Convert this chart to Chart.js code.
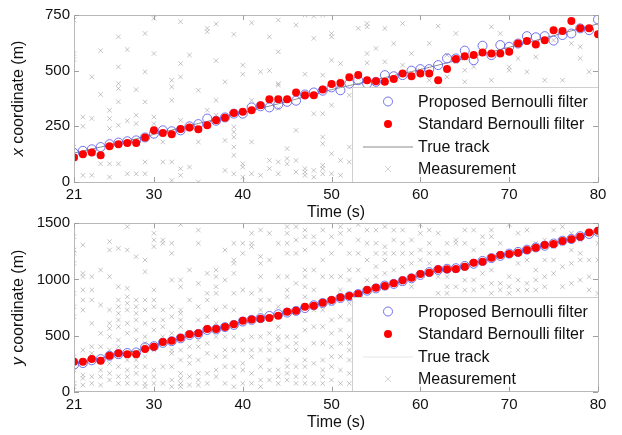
<!DOCTYPE html>
<html><head><meta charset="utf-8">
<script src="https://cdn.jsdelivr.net/npm/chart.js@4"></script>
<style>
html,body{margin:0;padding:0;background:#fff;}
#wrap{position:relative;width:622px;height:435px;overflow:hidden;background:#fff;}
canvas{position:absolute;left:0;}
</style></head><body>
<div id="wrap">
<canvas id="cx" width="622" height="222" style="top:0;width:622px;height:222px"></canvas>
<canvas id="cy" width="622" height="225" style="top:210px;width:622px;height:225px"></canvas>
</div>
<script>
const times = [21,22,23,24,25,26,27,28,29,30,31,32,33,34,35,36,37,38,39,40,41,42,43,44,45,46,47,48,49,50,51,52,53,54,55,56,57,58,59,60,61,62,63,64,65,66,67,68,69,70,71,72,73,74,75,76,77,78,79,80];
const timeTicks = [21,30,40,50,60,70,80];
const xCoordTicks = [0,250,500,750];
const yCoordTicks = [0,500,1000,1500];

// x coordinate (m)
const stdX  = [110,125,132,120,160,170,175,175,200,232, 220,215,238,245,237,255,277,288,310,315, 322,345,372,372,372,402,390,390,415,440, 445,470,480,457,453,450,463,487,475,487, 487,457,508,552,565,570,582,577,577,585, 622,633,618,637,682,678,723,690,690,664];
const propX = [130,140,147,157,170,177,183,187,200,217, 232,228,232,250,260,285,275,290,307,307, 335,340,335,348,360,365,393,402,410,425, 412,442,457,442,450,480,475,480,500,507, 507,525,555,555,590,547,612,570,615,607, 622,655,650,655,635,660,667,690,682,730];
const trueX = [130,139,148,157,166,175,184,194,204,214, 224,233,243,253,263,272,282,292,301,311, 321,331,341,351,361,372,383,394,404,415, 424,433,442,451,460,469,478,487,496,505, 515,525,535,545,555,565,575,585,595,605, 615,625,636,647,657,668,679,689,700,710];
const measX = [
 [728,577,550,157],[292,250,30],[472,285,30],[590,393,82],[322,285,240,82,22],
 [652,517,442,420,360,255,82],[595,275,37],[415,300,262,37],[667,495,360,90,37],[735,577,292,262],
 [180,90],[457,427,367,90,7],[720,532,472,277,60,30],[570,67],[412,180,0],
 [690,675,322],[710,545,367,300],[450,187,52],[663,247,225,202,157,120,37],[525,484,82,67,22],
 [715,367,180,37],[495,30],[652,500,97,60],[727,585,442,435,330,90,37],[150,105,82],
 [705,232,97,45],[750,484,60,45,30],[745,645,307,52,22],[750,480,307,202,172,75,60,37],[667,652,547,345,127,37],
 [532,457,97,30],[390,157,90],[690,465,200],[712,697,577,535],[600,120],
 [690,540],[622,300],[712,525],[577,150],[502,60],
 [622,457],[700,420],[570,472],[667,540],[555,502,450],
 [517],[577],[697,457],[667],[517,502],
 [555],[495],[562],[457],[637],
 [457],[622],[607,555],[495],[240,157,105]
];

// y coordinate (m)
const stdY  = [267,267,291,276,321,342,333,333,380,401, 443,454,481,511,520,558,558,576,600,633, 644,650,656,677,713,722,757,766,793,817, 838,852,870,906,927,941,965,992,1016,1048, 1060,1090,1090,1093,1114,1149,1158,1194,1218,1227, 1238,1262,1283,1307,1316,1342,1357,1381,1417,1434];
const propY = [240,255,280,290,320,335,345,350,395,405, 435,450,475,505,515,550,555,575,595,625, 640,655,675,690,705,720,745,770,790,810, 835,850,870,900,920,945,960,985,1010,1040, 1065,1085,1095,1100,1120,1140,1165,1190,1210,1230, 1245,1265,1285,1300,1320,1345,1360,1385,1405,1425];
const trueY = [250,265,282,298,318,335,350,365,385,405, 432,452,475,500,518,545,560,578,598,622, 640,656,672,690,708,725,748,768,790,810, 835,852,870,898,920,943,962,988,1012,1040, 1060,1082,1094,1102,1120,1145,1165,1190,1212,1228, 1244,1264,1285,1303,1320,1344,1360,1384,1408,1428];
const measY = [
 [1381,1262,1232,1143,876,757,668,312,193,74,45],
 [1307,1054,1025,906,817,728,371,252,148,119,59],
 [1025,906,817,609,401,342,134,74],
 [1084,772,520,401,193,134,59],
 [1337,1262,1025,728,609,564,490,371,252,163,104],
 [1277,935,817,757,698,639,579,460,401,312,223,134,74],
 [1470,1262,921,846,787,728,609,520,282,193,134,74],
 [1203,817,757,698,639,549,460,282,223,163,74],
 [1173,1069,817,728,609,490,431,312,223,134,74,45],
 [1411,1351,1292,906,817,757,639,549,371,193,134,74],
 [1351,1322,728,639,579,490,431,223,74],
 [1322,1232,995,757,668,520,371,342,223,104,45],
 [1490,995,935,728,698,639,579,371,282,163,119,74,45],
 [1084,817,401,312,252,134,59],
 [1440,1322,965,757,639,460,401,282,163,104,59],
 [1054,876,817,668,431,342,163,74],
 [1084,1025,935,876,728,609,490,312,193,134],
 [1262,995,757,490,371,312,223,74],
 [1322,1173,1143,1054,876,728,490,371,223,134,45],
 [1322,1232,906,639,460,371,252,193,74],
 [1411,1322,1292,876,490,371,312,163,74],
 [1440,1203,1143,1025,906,817,728,490,371,223,104,45],
 [1411,1173,817,520,431,371,282,193,104],
 [1322,1025,757,579,490,460,371,193,134,74],
 [1470,1411,1322,1232,1025,906,846,490,401,282,223,163,104],
 [1470,1351,1232,965,728,490,431,371,223,134,74],
 [1440,1381,1262,1084,1025,935,846,639,549,371,282,223,134,74],
 [1381,1322,1084,906,728,579,431,252,74],
 [1440,1322,1173,1025,728,579,431,282,193,134,74],
 [1381,1232,1025,787,639,520,401,312,223,104],
 [1470,1411,1322,1025,906,668,549,431,312,193,74],
 [1440,1232,1084,995,787,639,490,431,371,282,163,74],
 [1490,1351,1232,1084],[1440,1322,1173,995],[1440,1322,1232,1114,1025],
 [1470,1292,1232,1173,1054],[1440,1351,1232,1084],[1440,1322,1232,1114,965],
 [1351,1232,1143,935],[1490,1411,1262,1173],[1440,1322,1232,1143],
 [1411,1232,1025,876],[1322,1232,1025,935,876],[1351,1322,1084,935],
 [1440,1322,995,906],[1440,1262,995,906],[1381,1322,1054,935],
 [1440,1381,1084,965,876],[1322,965,906],[1490,1232,1025,935,876],
 [1411,1143,995,906],[1440,1173,965,906],[1322,1084,995,906],
 [1351,1173,1025,935],[1440,1292,1173,1054],[1470,1322,1114,935],
 [1411,1262,1143,965],[1351,1232,1173,995],[1411,1173,1025,906],[1322,1173,876]
];

const FONT = "Arial, 'Liberation Sans', sans-serif";
const legendOrder = [1,0,2,3];

function pts(ys){ return times.map((t,i)=>({x:t,y:ys[i]})); }
function measPts(m){ const out=[]; m.forEach((arr,i)=>arr.forEach(v=>out.push({x:times[i],y:v}))); return out; }

function decorPlugin(axisLetter, legendLineColor){
  return {
    id:'decor',
    afterDatasetsDraw(chart){
      const {ctx, chartArea:a, scales} = chart;
      ctx.save();
      // legend box
      const L = Math.round(a.right - 246), T = Math.round(a.bottom - 95), R = a.right, B = a.bottom;
      ctx.fillStyle = '#fff';
      ctx.fillRect(L, T, R-L, B-T);
      ctx.strokeStyle = '#cfcfcf'; ctx.lineWidth = 1;
      ctx.beginPath(); ctx.moveTo(L+0.5, B); ctx.lineTo(L+0.5, T+0.5); ctx.lineTo(R, T+0.5); ctx.stroke();
      const rows = [14.5, 37, 59.5, 82];
      const mx = L + 36;
      legendOrder.forEach((di, k) => {
        const ds = chart.data.datasets[di];
        const y = T + rows[k];
        if (di === 1) {
          ctx.strokeStyle = ds.borderColor; ctx.lineWidth = 1;
          ctx.beginPath(); ctx.arc(mx, y, 4.5, 0, Math.PI*2); ctx.stroke();
        } else if (di === 0) {
          ctx.fillStyle = ds.backgroundColor;
          ctx.beginPath(); ctx.arc(mx, y, 4, 0, Math.PI*2); ctx.fill();
        } else if (di === 2) {
          ctx.strokeStyle = legendLineColor; ctx.lineWidth = 1;
          ctx.beginPath(); ctx.moveTo(L+11, y+0.5); ctx.lineTo(L+61, y+0.5); ctx.stroke();
        } else {
          ctx.strokeStyle = 'rgba(170,170,170,0.5)'; ctx.lineWidth = 1;
          ctx.beginPath(); ctx.moveTo(mx-3,y-3); ctx.lineTo(mx+3,y+3); ctx.moveTo(mx+3,y-3); ctx.lineTo(mx-3,y+3); ctx.stroke();
        }
        ctx.fillStyle = '#111';
        ctx.font = '16px ' + FONT;
        ctx.textBaseline = 'middle'; ctx.textAlign = 'left';
        ctx.fillText(ds.label, L + 66, y + 1);
      });
      // axes box
      ctx.strokeStyle = '#b8b8b8'; ctx.lineWidth = 1;
      ctx.strokeRect(Math.round(a.left)+0.5, Math.round(a.top)+0.5, Math.round(a.right-a.left), Math.round(a.bottom-a.top));
      // inward ticks
      ctx.strokeStyle = '#a0a0a0';
      ctx.beginPath();
      scales.x.ticks.forEach(t => {
        const px = Math.round(scales.x.getPixelForValue(t.value))+0.5;
        ctx.moveTo(px, a.bottom); ctx.lineTo(px, a.bottom-5);
        ctx.moveTo(px, a.top); ctx.lineTo(px, a.top+5);
      });
      scales.y.ticks.forEach(t => {
        const py = Math.round(scales.y.getPixelForValue(t.value))+0.5;
        ctx.moveTo(a.left, py); ctx.lineTo(a.left+5, py);
        ctx.moveTo(a.right, py); ctx.lineTo(a.right-5, py);
      });
      ctx.stroke();
      // y axis title with italic variable
      const cy = (a.top + a.bottom)/2;
      ctx.translate(19, cy); ctx.rotate(-Math.PI/2);
      ctx.fillStyle = '#111'; ctx.textBaseline = 'middle'; ctx.textAlign = 'left';
      const fI = 'italic 16px ' + FONT, fN = '16px ' + FONT;
      ctx.font = fI; const w1 = ctx.measureText(axisLetter).width;
      ctx.font = fN; const rest = ' coordinate (m)'; const w2 = ctx.measureText(rest).width;
      const x0 = -(w1+w2)/2;
      ctx.font = fI; ctx.fillText(axisLetter, x0, 0);
      ctx.font = fN; ctx.fillText(rest, x0 + w1, 0);
      ctx.restore();
    }
  };
}

function makeChart(id, std, prop, tru, meas, yMax, yTicks, letter, padTop, xH, titlePadB, legendLineColor){
  return new Chart(document.getElementById(id), {
    type: 'scatter',
    data: { datasets: [
      { label:'Standard Bernoulli filter', data: pts(std), backgroundColor:'#ff0000', borderColor:'#ff0000', pointRadius:4, pointBorderWidth:0, pointStyle:'circle' },
      { label:'Proposed Bernoulli filter', data: pts(prop), backgroundColor:'rgba(0,0,0,0)', borderColor:'rgba(90,90,235,0.85)', pointRadius:4.5, pointBorderWidth:1, pointStyle:'circle' },
      { label:'True track', type:'line', data: pts(tru), borderColor:'#8c8c8c', borderWidth:1, pointRadius:0, showLine:true, fill:false, tension:0 },
      { label:'Measurement', data: measPts(meas), borderColor:'rgba(150,150,150,0.55)', backgroundColor:'rgba(0,0,0,0)', pointStyle:'crossRot', pointRadius:3.2, pointBorderWidth:1 }
    ]},
    options: {
      responsive:false, animation:false, devicePixelRatio:1,
      layout:{ padding:{ left:0, right:24, top:padTop, bottom:0 } },
      plugins:{ legend:{display:false}, tooltip:{enabled:false} },
      scales:{
        x:{ type:'linear', min:21, max:80,
            afterBuildTicks: s => { s.ticks = timeTicks.map(v => ({value:v})); },
            grid:{display:false, drawTicks:false}, border:{display:false},
            ticks:{ font:{family:FONT, size:15}, color:'#111', padding:4, maxRotation:0, autoSkip:false, callback: v => String(v) },
            title:{ display:true, text:'Time (s)', font:{family:FONT, size:16}, color:'#111', padding:{top:0, bottom:titlePadB} },
            afterFit: s => { s.height = xH; } },
        y:{ type:'linear', min:0, max:yMax,
            afterBuildTicks: s => { s.ticks = yTicks.map(v => ({value:v})); },
            grid:{display:false, drawTicks:false}, border:{display:false},
            ticks:{ font:{family:FONT, size:15, lineHeight:1}, color:'#111', padding:4, callback: v => String(v) },
            afterFit: s => { s.width = 74; } }
      }
    },
    plugins:[ decorPlugin(letter, legendLineColor) ]
  });
}

makeChart('cx', stdX, propX, trueX, measX, 750, xCoordTicks, 'x', 15, 40, 0, '#8c8c8c');
makeChart('cy', stdY, propY, trueY, measY, 1500, yCoordTicks, 'y', 13.3, 43.3, 3.3, '#e6e6e6');
</script>
</body></html>
